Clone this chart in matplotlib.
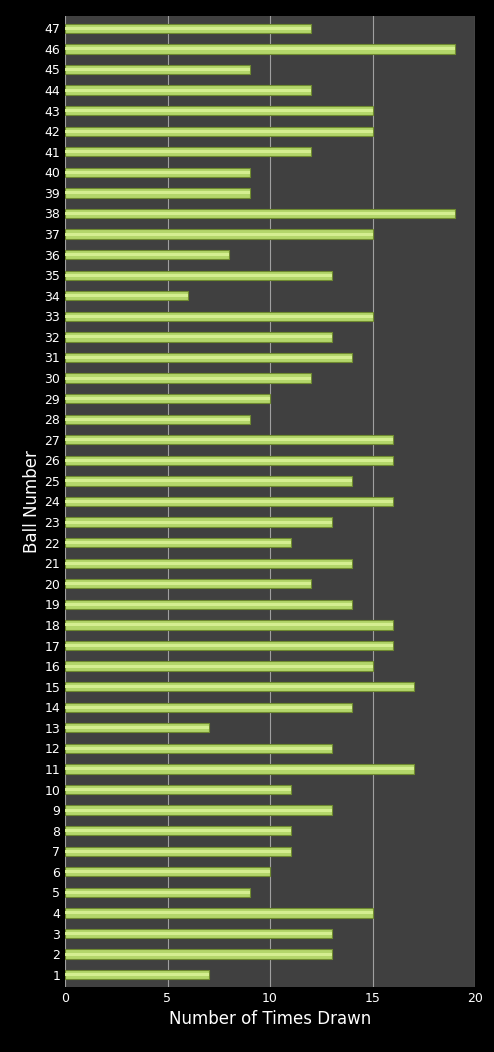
import matplotlib
matplotlib.use("Agg")
import matplotlib.pyplot as plt

balls = list(range(1, 48))
counts = [7,13,13,15,9,10,11,11,13,11,17,13,7,14,17,15,16,16,14,12,14,11,13,16,14,16,16,9,10,12,14,13,15,6,13,8,15,19,9,9,12,15,15,12,9,19,12]

fig = plt.figure(figsize=(4.94, 10.52), dpi=100, facecolor="black")
ax = fig.add_axes([65/494, 1-987/1052, 410/494, 971/1052])
ax.set_facecolor("#404040")
ax.barh(balls, counts, height=0.45, color="#b3d66a", edgecolor="#6f8a30", linewidth=0.8, zorder=3)
ax.barh(balls, counts, height=0.15, left=0, color="#d4ee90", linewidth=0, zorder=4, align="center")
ax.set_xlim(0, 20)
ax.set_ylim(0.4, 47.6)
ax.set_xticks([0, 5, 10, 15, 20])
ax.set_yticks(balls)
ax.xaxis.grid(True, color="#a0a0a0", linewidth=0.8, zorder=0)
ax.tick_params(colors="white", labelsize=9, length=0)
for s in ax.spines.values():
    s.set_visible(False)
ax.set_xlabel("Number of Times Drawn", color="white", fontsize=12)
ax.set_ylabel("Ball Number", color="white", fontsize=12, labelpad=2)
fig.savefig("out.png", facecolor="black")
